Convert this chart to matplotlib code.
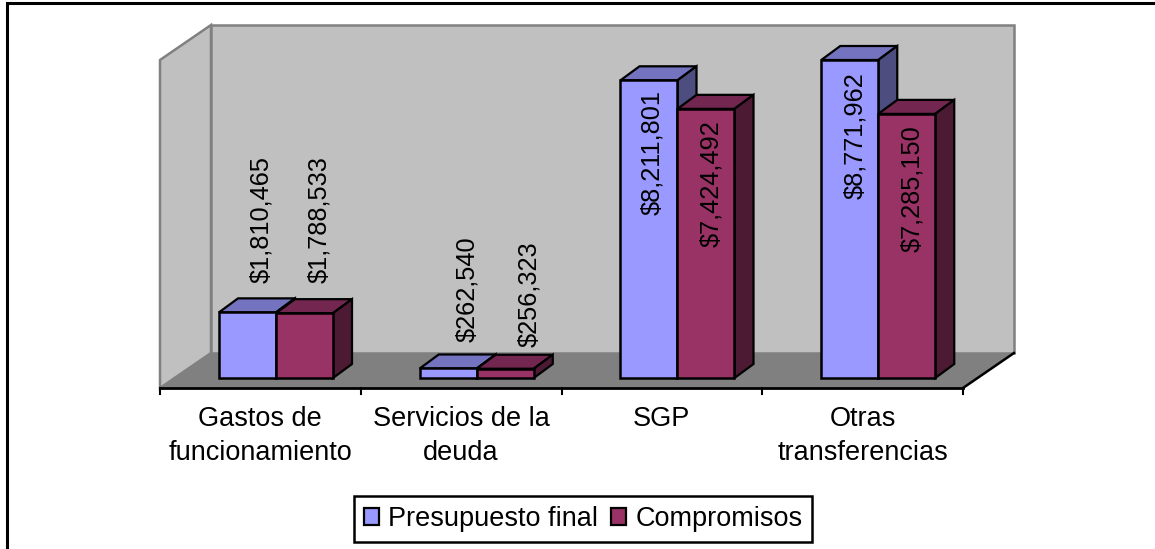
import matplotlib
matplotlib.use("Agg")
import matplotlib.pyplot as plt
from matplotlib.patches import Polygon, Patch, Rectangle
from matplotlib.lines import Line2D

categories = ["Gastos de\nfuncionamiento", "Servicios de la\ndeuda", "SGP", "Otras\ntransferencias"]
presupuesto = [1810465, 262540, 8211801, 8771962]
compromisos = [1788533, 256323, 7424492, 7285150]
series_names = ["Presupuesto final", "Compromisos"]

W, H = 1155, 549
plt.rcParams["font.family"] = ["Liberation Sans", "DejaVu Sans"]
FS = 19.5
FS_VAL = 18.3
fig = plt.figure(figsize=(W / 100, H / 100), dpi=100, facecolor="white")

# frame of the chart area (runs off the lower and right edges)
fig.add_artist(Rectangle((6.5 / W, -0.05), 1.05, 1.05 - 2.5 / H, transform=fig.transFigure,
                         fill=False, ec="black", lw=2.2))

# axes: front plane x, value 0 at the bars' base
L, R, BASE, TOP = 160, 963, 378, 25
ax = fig.add_axes([L / W, 1 - BASE / H, (R - L) / W, (BASE - TOP) / H])
PX_PER_VAL = 318 / max(presupuesto)
ax.set_xlim(0, len(categories))
ax.set_ylim(0, (BASE - TOP) / PX_PER_VAL)
ax.axis("off")
xpx = (R - L) / len(categories)
def dxp(p): return p / xpx
def dyp(p): return p / PX_PER_VAL

# walls and floor
GREY = "#808080"; WALL = "#C0C0C0"
ymax = ax.get_ylim()[1]
front_y = dyp(-10)
deep_x, deep_y = dxp(51), dyp(35)
n = len(categories)
kw = dict(clip_on=False, joinstyle="miter")
ax.add_patch(Polygon([(0, front_y), (deep_x, front_y + deep_y), (n + deep_x, front_y + deep_y), (n, front_y)],
                     fc=GREY, ec="none", zorder=1, **kw))
ax.add_patch(Polygon([(0, front_y), (deep_x, front_y + deep_y), (deep_x, ymax), (0, ymax - deep_y)],
                     fc=WALL, ec=GREY, lw=1.8, zorder=1, **kw))
ax.add_patch(Rectangle((deep_x, front_y + deep_y), n, ymax - front_y - deep_y,
                       fc=WALL, ec=GREY, lw=1.8, zorder=1, **kw))
ax.add_line(Line2D([n, n + deep_x], [front_y, front_y + deep_y], color="black", lw=1.8, zorder=2, clip_on=False))
ax.add_line(Line2D([0, n], [front_y, front_y], color="black", lw=2, zorder=2, clip_on=False))
for i in range(n + 1):
    ax.add_line(Line2D([i, i], [front_y, front_y + dyp(-6)], color="black", lw=1.5, zorder=2, clip_on=False))

# bars with a pseudo-3D top and side
BW = 57 / xpx
SHIFT = 59 / xpx
DX, DY = dxp(19), dyp(14)
styles = [("#9999FF", "#7373BF", "#4D4D80"), ("#993366", "#732650", "#4D1A33")]
for s, vals in enumerate([presupuesto, compromisos]):
    front, topc, side = styles[s]
    xs = [i + SHIFT + s * BW for i in range(n)]
    z = 5 + s * 2
    ax.bar(xs, vals, BW, align="edge", color=front, ec="black", lw=1.8, zorder=z + 1, clip_on=False)
    for x, v in zip(xs, vals):
        ax.add_patch(Polygon([(x, v), (x + DX, v + DY), (x + BW + DX, v + DY), (x + BW, v)],
                             fc=topc, ec="black", lw=1.6, zorder=z, **kw))
        ax.add_patch(Polygon([(x + BW, 0), (x + BW + DX, DY), (x + BW + DX, v + DY), (x + BW, v)],
                             fc=side, ec="black", lw=1.6, zorder=z, **kw))

# value labels: nudges in pixels from each bar's left edge and top
label_dx = [[42, 47, 31.5, 33.5], [43, 52, 34, 34]]
label_dy = [[29, 26, -135, -139], [30, 21.5, -138, -138]]
for s, vals in enumerate([presupuesto, compromisos]):
    for i, v in enumerate(vals):
        x = i + SHIFT + s * BW
        ax.annotate(f"${v:,}", (x, v), xytext=(label_dx[s][i] * 0.72, label_dy[s][i] * 0.72),
                    textcoords="offset points", rotation=90, ha="center", va="bottom",
                    fontsize=FS_VAL, color="black", zorder=20, annotation_clip=False)

# category labels
for i, c in enumerate(categories):
    ax.text(i + 0.5, dyp(-28), c, ha="center", va="top", fontsize=FS, color="black",
            linespacing=1.4, clip_on=False)

# legend
handles = [Patch(fc=styles[k][0], ec="black", lw=1.6) for k in range(2)]
fig.legend(handles, series_names, loc="center", bbox_to_anchor=(583 / W, 1 - 519 / H), ncol=2, fontsize=FS,
           fancybox=False, edgecolor="black", framealpha=1, handlelength=0.58, handleheight=0.58,
           handletextpad=0.33, columnspacing=0.45, borderpad=0.36, borderaxespad=0).get_frame().set_linewidth(1.8)

fig.savefig("out.png", dpi=100, facecolor="white")
